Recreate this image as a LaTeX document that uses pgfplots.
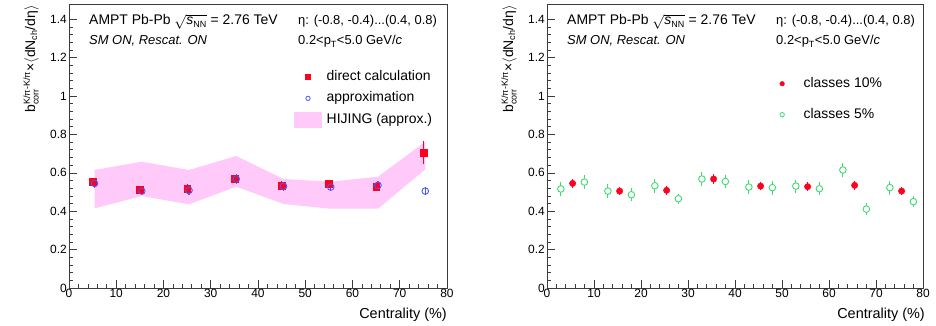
\documentclass[border=0pt]{standalone}
\usepackage{pgfplots}
\pgfplotsset{compat=1.18}
\usepackage{pgfplotstable}
\usepackage{fontspec}
\setmainfont{Liberation Sans}
\definecolor{rootred}{RGB}{255,0,30}
\definecolor{rootblue}{RGB}{70,90,255}
\definecolor{rootgreen}{RGB}{60,220,110}
\definecolor{hijing}{RGB}{255,202,250}
\definecolor{frame}{RGB}{60,60,60}

\pgfplotstableread{
x y e
5 0.552 0.022
15 0.512 0.022
25 0.516 0.024
35 0.569 0.022
45 0.533 0.022
55 0.543 0.020
65 0.528 0.024
75 0.707 0.060
}\direct
\pgfplotstableread{
x y e
5.4 0.545 0.023
15.4 0.505 0.022
25.4 0.509 0.022
35.4 0.568 0.024
45.4 0.530 0.022
55.4 0.526 0.022
65.4 0.535 0.024
75.4 0.505 0.022
}\approxi
\pgfplotstableread{
x y e
5.45 0.545 0.024
15.45 0.505 0.020
25.45 0.509 0.022
35.45 0.568 0.024
45.45 0.531 0.022
55.45 0.528 0.022
65.45 0.535 0.024
75.45 0.505 0.022
}\tenpc
\pgfplotstableread{
x y e
2.95 0.516 0.036
7.95 0.552 0.038
12.95 0.505 0.036
17.95 0.486 0.034
22.95 0.533 0.036
27.95 0.465 0.026
32.95 0.568 0.038
37.95 0.555 0.036
42.95 0.526 0.036
47.95 0.523 0.036
52.95 0.531 0.034
57.95 0.517 0.034
62.95 0.615 0.034
67.95 0.411 0.032
72.95 0.523 0.036
77.95 0.450 0.030
}\fivepc

\pgfplotsset{
  rootaxis/.style={
    anchor=south west, scale only axis, height=284bp,
    xmin=0, xmax=80, ymin=0, ymax=1.48,
    xtick={0,10,...,80}, ytick={0,0.2,0.4,0.6,0.8,1,1.2,1.4},
    minor x tick num=4, minor y tick num=4,
    tick align=inside, tick pos=left,
    major tick length=8bp, minor tick length=4bp,
    axis line style={line width=0.9bp, frame},
    every tick/.style={frame, line width=0.7bp},
    ticklabel style={font=\fontsize{12}{12}\selectfont},
    /pgf/number format/assume math mode=true,
    xticklabel style={inner sep=1bp},
    yticklabel style={inner sep=2bp},
    legend cell align=left,
    legend style={draw=none, fill=none, inner sep=0pt, font=\fontsize{14}{14}\selectfont,
      column sep=3bp,
      nodes={inner sep=2bp, text height=10bp, text depth=3bp}},
  },
  ebar/.style={error bars/.cd, y dir=both, y explicit, error mark=none,
    error bar style={line width=1.1bp}},
  legmark/.style={legend image code/.code={\path[draw=none,fill=none] (0bp,-1bp) rectangle (27bp,1bp);
     \draw[##1] plot coordinates {(13.5bp,0bp)};}},
  legbox/.style={legend image code/.code={\fill[hijing] (0bp,-7.5bp) rectangle (27bp,7.5bp);}},
}

\begin{document}
\begin{tikzpicture}
\useasboundingbox (0,0) rectangle (936bp,326bp);
% ---------------- left panel
\begin{axis}[rootaxis, at={(69bp,38bp)}, width=378bp,
  legend style={at={(0.5956,0.774)}, anchor=north west, row sep=4.5bp}]
\addplot[fill=hijing, draw=none, forget plot] coordinates {
 (5.4,0.615) (15.4,0.658) (25.4,0.615) (35.4,0.688) (45.4,0.568) (55.4,0.554) (65.4,0.580) (75.4,0.762)
 (75.4,0.618) (65.4,0.413) (55.4,0.413) (45.4,0.4375) (35.4,0.528) (25.4,0.436) (15.4,0.479) (5.4,0.415)} -- cycle;
\addplot[only marks, mark=square*, rootred, mark size=3.4bp, forget plot, ebar]
  table[x=x, y=y, y error=e] {\direct};
\addplot[only marks, mark=o, rootblue, mark size=3.3bp, mark options={line width=0.9bp}, forget plot, ebar]
  table[x=x, y=y, y error=e] {\approxi};
\addlegendimage{only marks, mark=square*, rootred, mark size=2.5bp, legmark}
\addlegendentry{direct calculation}
\addlegendimage{only marks, mark=o, rootblue, mark size=2.2bp, mark options={line width=0.8bp}, legmark}
\addlegendentry{approximation}
\addlegendimage{legbox}
\addlegendentry{HIJING (approx.)}
\end{axis}
% ---------------- right panel
\begin{axis}[rootaxis, at={(547bp,38bp)}, width=376bp,
  legend style={at={(0.589,0.75)}, anchor=north west, row sep=14bp, column sep=6bp}]
\addplot[only marks, mark=*, rootred, mark size=3.2bp, forget plot, ebar]
  table[x=x, y=y, y error=e] {\tenpc};
\addplot[only marks, mark=*, rootgreen, mark size=3.3bp, mark options={fill=white, line width=0.9bp}, forget plot, ebar]
  table[x=x, y=y, y error=e] {\fivepc};
\addlegendimage{only marks, mark=*, rootred, mark size=2.3bp, legmark}
\addlegendentry{classes 10\%}
\addlegendimage{only marks, mark=o, rootgreen, mark size=2.2bp, mark options={line width=0.8bp}, legmark}
\addlegendentry{classes 5\%}
\end{axis}
% ---------------- texts
\foreach \dx in {0bp,478bp}{
  \begin{scope}[xshift=\dx]
  \node[anchor=base west, inner sep=0pt, font=\fontsize{14}{14}\selectfont] at (89bp,301bp)
    {AMPT Pb-Pb $\sqrt{\mbox{\itshape s}_{\mbox{\fontsize{9}{9}\selectfont NN}}}$ = 2.76 TeV};
  \node[anchor=base west, inner sep=0pt, font=\fontsize{13}{13}\selectfont\itshape] at (89bp,281bp)
    {SM ON, Rescat. ON};
  \node[anchor=base west, inner sep=0pt, font=\fontsize{13}{13}\selectfont] at (298bp,301bp)
    {η: (-0.8, -0.4)...(0.4, 0.8)};
  \node[anchor=base west, inner sep=0pt, font=\fontsize{13}{13}\selectfont] at (298bp,281bp)
    {0.2<p$_{\mbox{\fontsize{9}{9}\selectfont T}}$<5.0 GeV/\textit{c}};
  \node[anchor=base east, inner sep=0pt, font=\fontsize{14.5}{14.5}\selectfont] at (447bp,8bp)
    {Centrality (\%)};
  \node[anchor=base east, rotate=90, inner sep=0pt, font=\fontsize{14}{14}\selectfont] at (35bp,321bp)
    {b$^{\mbox{\fontsize{9}{9}\selectfont K/π-K/π}}_{\mbox{\fontsize{9}{9}\selectfont corr}}$×$\langle$dN$_{\mbox{\fontsize{9}{9}\selectfont ch}}$/dη$\rangle$};
  \end{scope}
}
\end{tikzpicture}
\end{document}
